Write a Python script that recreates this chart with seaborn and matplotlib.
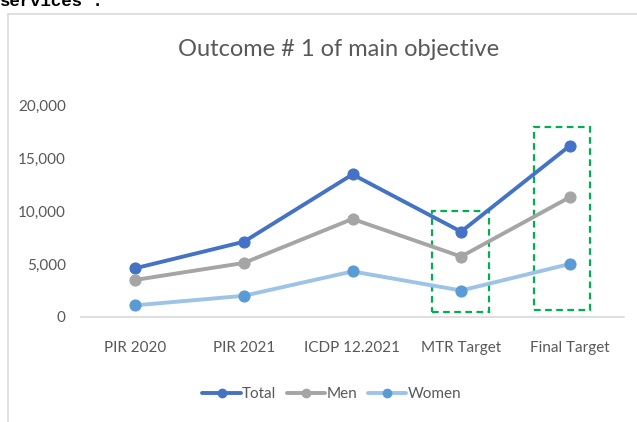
import matplotlib
matplotlib.use("Agg")
import matplotlib.pyplot as plt
import seaborn as sns
import pandas as pd
from matplotlib.patches import Rectangle
from matplotlib.lines import Line2D

categories = ["PIR 2020", "PIR 2021", "ICDP 12.2021", "MTR Target", "Final Target"]
total = [4600, 7100, 13450, 8050, 16150]
men = [3500, 5100, 9250, 5700, 11300]
women = [1100, 2000, 4300, 2500, 5000]
y_ticks = [0, 5000, 10000, 15000, 20000]
title = "Outcome # 1 of main objective"

sns.set_theme(style="white")
plt.rcParams['font.family'] = ['Lato', 'DejaVu Sans']

fig = plt.figure(figsize=(6.37, 4.22), dpi=100)
W, H = 637, 422
ax = fig.add_axes([81 / W, 1 - 317 / H, (624 - 81) / W, (317 - 105) / H])

df = pd.DataFrame({"cat": categories, "x": range(len(categories)),
                   "Total": total, "Men": men, "Women": women})

series = [("Total", "#4472C4", "#4472C4"),
          ("Men", "#A5A5A5", "#A5A5A5"),
          ("Women", "#9DC3E6", "#5B9BD5")]
handles = []
for name, lc, mc in series:
    sns.lineplot(data=df, x="x", y=name, ax=ax, color=lc, linewidth=2.8,
                 marker="o", markersize=8, markerfacecolor=mc,
                 markeredgecolor=mc, label=name, legend=False)
    handles.append(Line2D([0], [0], color=lc, lw=2.8, marker="o", markersize=6,
                          markerfacecolor=mc, markeredgecolor=mc))

ax.set_xlim(-0.5, len(categories) - 0.5)
ax.set_ylim(0, 20000)
ax.set_xticks(range(len(categories)))
ax.set_xticklabels(categories)
ax.set_yticks(y_ticks)
ax.set_yticklabels([f"{v:,}" for v in y_ticks])
ax.set_xlabel("")
ax.set_ylabel("")
ax.tick_params(axis="both", length=0, labelsize=11, labelcolor="#595959")
ax.tick_params(axis="x", pad=17)
ax.tick_params(axis="y", pad=11)
for s in ["top", "right", "left"]:
    ax.spines[s].set_visible(False)
ax.spines["bottom"].set_color("#D9D9D9")
ax.spines["bottom"].set_linewidth(1.2)
ax.set_facecolor("none")
ax.grid(False)

# highlight boxes
ax.add_patch(Rectangle((2.73, 470), 0.53, 10000 - 470, fill=False,
                       edgecolor="#00B050", linestyle=(0, (3, 2)), lw=1.6, zorder=1))
ax.add_patch(Rectangle((3.67, 660), 0.52, 17950 - 660, fill=False,
                       edgecolor="#00B050", linestyle=(0, (3, 2)), lw=1.6, zorder=1))

fig.legend(handles, ["Total", "Men", "Women"], loc="center",
           bbox_to_anchor=(332 / W, 1 - 394 / H), ncol=3, frameon=False,
           fontsize=11, handlelength=2.5, handletextpad=0.1, columnspacing=0.7,
           labelcolor="#595959")

fig.text(339 / W, 1 - 50 / H, title, ha="center", va="center",
         fontsize=17, color="#595959")

# chart frame
fig.add_artist(Line2D([8 / W, 8 / W], [0, 1 - 14 / H], color="#D9D9D9", lw=1.2))
fig.add_artist(Line2D([8 / W, 1], [1 - 14 / H, 1 - 14 / H], color="#D9D9D9", lw=1.2))

# cut-off document text from the surrounding page
fig.text(0 / W, 1 - 6 / H, "services\u201d.", ha="left", va="baseline",
         fontsize=12.5, fontweight="bold",
         family=["Liberation Mono", "DejaVu Sans Mono"], color="black")

fig.savefig("out.png", dpi=100, facecolor="white")
